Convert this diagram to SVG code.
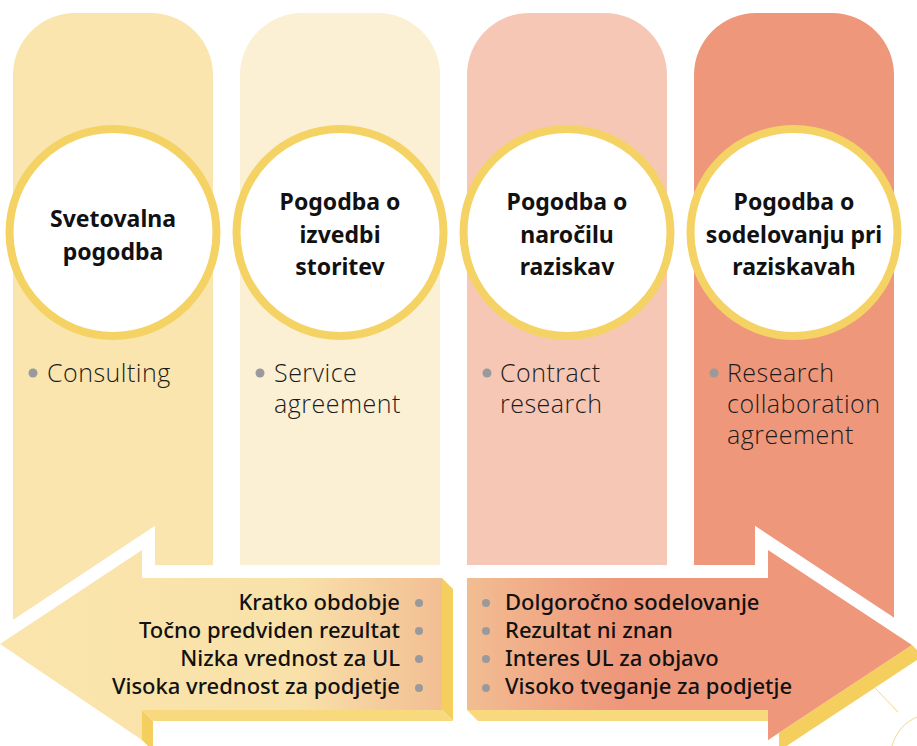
<svg xmlns="http://www.w3.org/2000/svg" width="917" height="746" viewBox="0 0 917 746">
<defs>
<linearGradient id="gl" gradientUnits="userSpaceOnUse" x1="0" y1="0" x2="442" y2="0">
<stop offset="0" stop-color="#fae5ad"/>
<stop offset="0.66" stop-color="#f9e2aa"/>
<stop offset="1" stop-color="#f2be93"/>
</linearGradient>
<linearGradient id="gr" gradientUnits="userSpaceOnUse" x1="467" y1="0" x2="620" y2="0">
<stop offset="0" stop-color="#f2bd92"/>
<stop offset="1" stop-color="#ee977b"/>
</linearGradient>
<path id="la" d="M0,644 L142,550 L142,578 L442,578 L442,710 L142,710 L142,740 Z"/>
<path id="ra" d="M467,578 L768,578 L768,550 L912,645 L768,740 L768,710 L467,710 Z"/>
</defs>
<style>
.ring{fill:#ffffff;stroke:#f5d264;stroke-width:8}
.title{font-family:"Noto Sans","Liberation Sans",sans-serif;font-weight:700;font-size:23px;fill:#111;text-anchor:middle}
.item{font-family:"Open Sans","Noto Sans","Liberation Sans",sans-serif;font-weight:300;font-size:25px;letter-spacing:0.5px;fill:#1c1c1c}
.dot{fill:#9a9a9c}
.feat{font-family:"Noto Sans","Liberation Sans",sans-serif;font-weight:500;font-size:22px;fill:#111}
.halo{fill:none;stroke:#ffffff;stroke-width:26;stroke-linejoin:miter;stroke-miterlimit:10}
</style>

<g id="col1">
<path d="M13,640 V75 A62,62 0 0 1 75,13 H151 A62,62 0 0 1 213,75 V640 Z" fill="#fae5ae"/>
</g>
<g id="col2">
<path d="M240,640 V75 A62,62 0 0 1 302,13 H378 A62,62 0 0 1 440,75 V640 Z" fill="#fbefd4"/>
</g>
<g id="col3">
<path d="M467,640 V75 A62,62 0 0 1 529,13 H605 A62,62 0 0 1 667,75 V640 Z" fill="#f6c7b5"/>
</g>
<g id="col4">
<path d="M694,640 V75 A62,62 0 0 1 756,13 H832 A62,62 0 0 1 894,75 V640 Z" fill="#ee977b"/>
</g>

<g id="node1">
<circle class="ring" cx="113" cy="232.5" r="103.5"/>
<text class="title" x="113" y="227">Svetovalna</text>
<text class="title" x="113" y="259.5">pogodba</text>
<circle class="dot" cx="33" cy="373" r="4.5"/>
<text class="item" x="47" y="382">Consulting</text>
</g>
<g id="node2">
<circle class="ring" cx="340" cy="232.5" r="103.5"/>
<text class="title" x="340" y="210">Pogodba o</text>
<text class="title" x="340" y="242.5">izvedbi</text>
<text class="title" x="340" y="275">storitev</text>
<circle class="dot" cx="260" cy="373" r="4.5"/>
<text class="item" x="274" y="382">Service</text>
<text class="item" x="274" y="413">agreement</text>
</g>
<g id="node3">
<circle class="ring" cx="567" cy="232.5" r="103.5"/>
<text class="title" x="567" y="210">Pogodba o</text>
<text class="title" x="567" y="242.5">naročilu</text>
<text class="title" x="567" y="275">raziskav</text>
<circle class="dot" cx="487" cy="373" r="4.5"/>
<text class="item" x="500" y="382">Contract</text>
<text class="item" x="500" y="413">research</text>
</g>
<g id="node4">
<circle class="ring" cx="794" cy="232.5" r="103.5"/>
<text class="title" x="794" y="210">Pogodba o</text>
<text class="title" x="794" y="242.5">sodelovanju pri</text>
<text class="title" x="794" y="275">raziskavah</text>
<circle class="dot" cx="714" cy="373" r="4.5"/>
<text class="item" x="727" y="382">Research</text>
<text class="item" x="727" y="413">collaboration</text>
<text class="item" x="727" y="444">agreement</text>
</g>

<g id="arrows">
<use href="#la" class="halo"/>
<use href="#ra" class="halo"/>
<g id="arrow-left">
<path d="M442,578 L453,589 L453,721 L442,710 Z" fill="#f5cf5e"/>
<path d="M142,710 L442,710 L453,721 L153,721 Z" fill="#f8d97e"/>
<path d="M142,710 L153,721 L153,751 L142,740 Z" fill="#f5cf5e"/>
<use href="#la" fill="url(#gl)"/>
<g class="feat" text-anchor="end">
<text x="400" y="610">Kratko obdobje</text>
<text x="400" y="638">Točno predviden rezultat</text>
<text x="400" y="666">Nizka vrednost za UL</text>
<text x="400" y="694">Visoka vrednost za podjetje</text>
</g>
<circle class="dot" cx="419" cy="603" r="4"/>
<circle class="dot" cx="419" cy="631" r="4"/>
<circle class="dot" cx="419" cy="659" r="4"/>
<circle class="dot" cx="419" cy="688" r="4"/>
</g>
<g id="arrow-right">
<path d="M467,710 L768,710 L779,721 L478,721 Z" fill="#f8d97e"/>
<path d="M768,710 L779,721 L779,751 L923,656 L912,645 L768,740 Z" fill="#f5cf5e"/>
<use href="#ra" fill="url(#gr)"/>
<g class="feat">
<text x="505" y="610">Dolgoročno sodelovanje</text>
<text x="505" y="638">Rezultat ni znan</text>
<text x="505" y="666">Interes UL za objavo</text>
<text x="505" y="694">Visoko tveganje za podjetje</text>
</g>
<circle class="dot" cx="486" cy="603" r="4"/>
<circle class="dot" cx="486" cy="631" r="4"/>
<circle class="dot" cx="486" cy="659" r="4"/>
<circle class="dot" cx="486" cy="688" r="4"/>
</g>
</g>

<g id="decor" fill="none" stroke="#f5d68a" stroke-width="1">
<path d="M875,688 L898,712"/>
<path d="M892,746 C896,732 905,722 917,717"/>
</g>
</svg>
